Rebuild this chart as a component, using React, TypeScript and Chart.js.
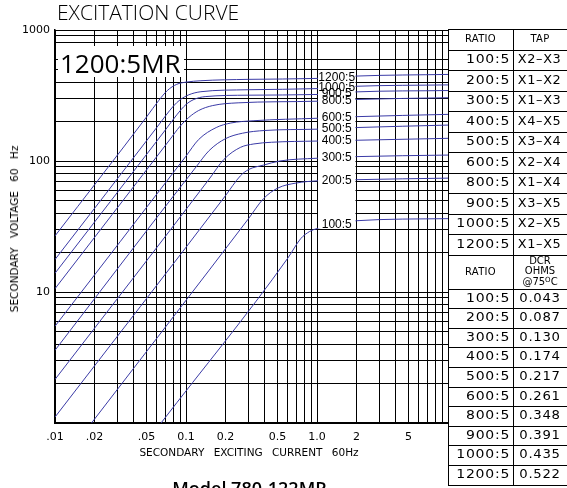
import React, { useEffect, useRef } from 'react';
import { Chart, registerables } from 'chart.js';

Chart.register(...registerables);

// ---- table data ----
const RATIOS = ['100:5', '200:5', '300:5', '400:5', '500:5', '600:5', '800:5', '900:5', '1000:5', '1200:5'];
const TAPS = ['X2–X3', 'X1–X2', 'X1–X3', 'X4–X5', 'X3–X4', 'X2–X4', 'X1–X4', 'X3–X5', 'X2–X5', 'X1–X5'];
const DCR = ['0.043', '0.087', '0.130', '0.174', '0.217', '0.261', '0.348', '0.391', '0.435', '0.522'];

// ---- excitation curves (secondary current A, secondary voltage V) ----
const I_100 = [0.0645, 0.6, 0.75, 0.88, 1, 2, 10];
const V_100 = [1.0, 18.2, 25.5, 29, 30.5, 35, 36.3];
const I_200 = [0.019, 0.3, 0.39, 0.5, 0.7, 1, 2, 10];
const V_200 = [1.0, 36.3, 51.5, 62, 68, 70.5, 72, 74];
const I_300 = [0.01, 0.2, 0.26, 0.3, 0.39, 0.52, 1, 2, 10];
const V_300 = [1.11, 54.3, 77, 86, 93, 100, 105, 108, 111];
const I_400 = [0.01, 0.15, 0.195, 0.26, 0.33, 0.45, 1, 2, 10];
const V_400 = [2.15, 72.6, 103, 127, 135, 139, 142, 144, 149];
const I_500 = [0.01, 0.12, 0.15, 0.2, 0.27, 0.4, 1, 2, 10];
const V_500 = [3.59, 90.7, 120, 148, 163, 171, 175, 180, 188];
const I_600 = [0.01, 0.1, 0.125, 0.17, 0.22, 0.33, 1, 2, 10];
const V_600 = [5.48, 109, 146, 180, 195, 203, 212, 218, 227];
const I_800 = [0.01, 0.075, 0.09, 0.105, 0.125, 0.16, 0.25, 1, 2, 10];
const V_800 = [10.6, 145, 184, 215, 243, 265, 278, 286, 295, 304];
const I_900 = [0.01, 0.07, 0.085, 0.1, 0.115, 0.14, 0.3, 1, 2, 10];
const V_900 = [13.9, 174, 225, 270, 295, 310, 318, 322, 337, 345];
const I_1000 = [0.01, 0.06, 0.07, 0.08, 0.09, 0.105, 0.13, 0.3, 1, 2, 10];
const V_1000 = [17.7, 181, 222, 262, 293, 320, 338, 350, 357, 372, 381];
const I_1200 = [0.01, 0.05, 0.062, 0.072, 0.085, 0.1, 0.13, 0.3, 1, 2, 10];
const V_1200 = [26.8, 217, 290, 345, 385, 400, 410, 420, 427, 445, 458];

const CURVE_I = [I_100, I_200, I_300, I_400, I_500, I_600, I_800, I_900, I_1000, I_1200];
const CURVE_V = [V_100, V_200, V_300, V_400, V_500, V_600, V_800, V_900, V_1000, V_1200];

// ---- axes ----
const X_MIN = 0.01;
const X_MAX = 10;
const Y_MIN = 1;
const Y_MAX = 1000;
const X_GRID = [
  0.01, 0.02, 0.03, 0.04, 0.05, 0.06, 0.07, 0.08, 0.09,
  0.1, 0.2, 0.3, 0.4, 0.5, 0.6, 0.7, 0.8, 0.9,
  1, 2, 3, 4, 5, 6, 7, 8, 9, 10,
];
const Y_GRID = [
  1, 2, 3, 4, 5, 6, 7, 8, 9,
  10, 20, 30, 40, 50, 60, 70, 80, 90,
  100, 200, 300, 400, 500, 600, 800, 900, 1000,
];
const X_LABEL_VALUES = [0.01, 0.02, 0.05, 0.1, 0.2, 0.5, 1, 2, 5];
const X_LABEL_TEXT = ['.01', '.02', '.05', '0.1', '0.2', '0.5', '1.0', '2', '5'];
const Y_LABEL_VALUES = [10, 100, 1000];
const Y_LABEL_TEXT = ['10', '100', '1000'];
const STRIP_FROM = 1;
const STRIP_TO = 2;

const CURVE_COLOR = '#3a3aa6';

function labelFor(value: number, vals: number[], texts: string[]) {
  const k = vals.findIndex((v) => Math.abs(v - value) / v < 1e-6);
  return k >= 0 ? texts[k] : '';
}

const stripPlugin = {
  id: 'ratioStrip',
  afterDatasetsDraw(chart: any) {
    const { ctx, scales } = chart;
    const xs = scales.x;
    const ys = scales.y;
    const x0 = xs.getPixelForValue(STRIP_FROM) + 1;
    const x1 = xs.getPixelForValue(STRIP_TO) - 1;
    const labelYs = CURVE_I.map((arr, k) => {
      const a = CURVE_V[k][arr.indexOf(STRIP_FROM)];
      const b = CURVE_V[k][arr.indexOf(STRIP_TO)];
      return ys.getPixelForValue(Math.sqrt(a * b));
    });
    const top = Math.min(...labelYs) - 5.5;
    const bottom = ys.getPixelForValue(30) - 1;
    ctx.save();
    ctx.fillStyle = '#fff';
    ctx.fillRect(x0, top, x1 - x0, bottom - top);
    ctx.fillStyle = '#000';
    ctx.font = '12px "Liberation Sans", Arial, sans-serif';
    ctx.textAlign = 'center';
    ctx.textBaseline = 'middle';
    labelYs.forEach((y, k) => {
      ctx.fillText(RATIOS[k], (x0 + x1) / 2, y + 0.5);
    });
    ctx.restore();
  },
};

function ExcitationChart() {
  const ref = useRef<HTMLCanvasElement | null>(null);
  useEffect(() => {
    if (!ref.current) return;
    const datasets = CURVE_I.map((arr, k) => ({
      label: RATIOS[k],
      data: arr.map((x, j) => ({ x, y: CURVE_V[k][j] })),
      borderColor: CURVE_COLOR,
      borderWidth: 1,
      pointRadius: 0,
      fill: false,
      cubicInterpolationMode: 'monotone' as const,
    }));
    const chart = new Chart(ref.current, {
      type: 'line',
      data: { datasets },
      plugins: [stripPlugin],
      options: {
        animation: false,
        responsive: true,
        maintainAspectRatio: false,
        parsing: false as any,
        layout: { padding: { left: 0, top: 30, right: 119, bottom: 35 } },
        plugins: {
          legend: { display: false },
          tooltip: { enabled: false },
          title: { display: false },
        },
        scales: {
          x: {
            type: 'logarithmic',
            min: X_MIN,
            max: X_MAX,
            afterBuildTicks: (s: any) => {
              s.ticks = X_GRID.map((v) => ({ value: v }));
            },
            afterFit: (s: any) => {
              s.height = 30;
            },
            ticks: {
              autoSkip: false,
              maxRotation: 0,
              minRotation: 0,
              padding: 8,
              color: '#000',
              font: { family: '"DejaVu Sans", sans-serif', size: 11 },
              callback: (v: any) => labelFor(Number(v), X_LABEL_VALUES, X_LABEL_TEXT),
            },
            grid: { color: '#000', lineWidth: 1, drawTicks: false },
            border: { color: '#000', width: 2 },
          },
          y: {
            type: 'logarithmic',
            min: Y_MIN,
            max: Y_MAX,
            afterBuildTicks: (s: any) => {
              s.ticks = Y_GRID.map((v) => ({ value: v }));
            },
            afterFit: (s: any) => {
              s.width = 55;
            },
            ticks: {
              autoSkip: false,
              padding: 5,
              color: '#000',
              font: { family: '"DejaVu Sans", sans-serif', size: 11 },
              callback: (v: any) => labelFor(Number(v), Y_LABEL_VALUES, Y_LABEL_TEXT),
            },
            grid: { color: '#000', lineWidth: 1, drawTicks: false },
            border: { color: '#000', width: 1.5 },
          },
        },
      } as any,
    });
    return () => chart.destroy();
  }, []);
  return (
    <div style={{ position: 'absolute', left: 0, top: 0, width: 567, height: 488 }}>
      <canvas ref={ref} />
    </div>
  );
}

const cellFont: React.CSSProperties = {
  fontFamily: '"DejaVu Sans", sans-serif',
  fontSize: 11.5,
  letterSpacing: 0.6,
  color: '#000',
};

function Wide({ children, origin, sx = 1.22 }: { children: React.ReactNode; origin: string; sx?: number }) {
  return (
    <span style={{ display: 'inline-block', transform: `scaleX(${sx})`, transformOrigin: origin, whiteSpace: 'nowrap' }}>
      {children}
    </span>
  );
}

function RatioTable() {
  const L = 448;
  const C = 513;
  const R = 567;
  const top = 29;
  const hUpper = 20.5;
  const hHead2 = 34;
  const hLower = 19.6;
  const cells: React.ReactNode[] = [];
  const lines: number[] = [top];
  let y = top;
  const hdrStyle: React.CSSProperties = {
    fontFamily: '"DejaVu Sans", sans-serif',
    fontSize: 10,
    letterSpacing: 0.3,
    color: '#000',
  };
  const box = (
    key: string,
    x: number,
    w: number,
    yy: number,
    h: number,
    content: React.ReactNode,
    align: 'right' | 'center',
    style: React.CSSProperties
  ) => (
    <div
      key={key}
      style={{
        position: 'absolute',
        left: x,
        top: yy,
        width: w,
        height: h,
        display: 'flex',
        alignItems: 'center',
        justifyContent: align === 'right' ? 'flex-end' : 'center',
        paddingRight: align === 'right' ? 3 : 0,
        boxSizing: 'border-box',
        textAlign: 'center',
        lineHeight: 1,
        ...style,
      }}
    >
      {content}
    </div>
  );
  cells.push(box('h1l', L, C - L, y, hUpper, 'RATIO', 'center', hdrStyle));
  cells.push(box('h1r', C, R - C, y, hUpper, 'TAP', 'center', hdrStyle));
  y += hUpper;
  lines.push(y);
  RATIOS.forEach((r, k) => {
    cells.push(box('u' + k + 'l', L, C - L, y, hUpper, <Wide origin="right center">{r}</Wide>, 'right', cellFont));
    cells.push(box('u' + k + 'r', C, R - C, y, hUpper, <Wide origin="center" sx={1.12}>{TAPS[k]}</Wide>, 'center', cellFont));
    y += hUpper;
    lines.push(y);
  });
  cells.push(box('h2l', L, C - L, y, hHead2, 'RATIO', 'center', hdrStyle));
  cells.push(
    box(
      'h2r',
      C,
      R - C,
      y,
      hHead2,
      <div style={{ lineHeight: '10.5px' }}>
        DCR
        <br />
        OHMS
        <br />
        @75<sup style={{ fontSize: 7, verticalAlign: 'top', lineHeight: '7px' }}>O</sup>C
      </div>,
      'center',
      { ...hdrStyle, letterSpacing: 0 }
    )
  );
  y += hHead2;
  lines.push(y);
  RATIOS.forEach((r, k) => {
    cells.push(box('d' + k + 'l', L, C - L, y, hLower, <Wide origin="right center">{r}</Wide>, 'right', cellFont));
    cells.push(box('d' + k + 'r', C, R - C, y, hLower, <Wide origin="center" sx={1.15}>{DCR[k]}</Wide>, 'center', cellFont));
    y += hLower;
    lines.push(y);
  });
  const bottom = y;
  return (
    <div>
      {lines.map((ly, k) => (
        <div key={'hl' + k} style={{ position: 'absolute', left: L, top: Math.round(ly), width: R - L, height: 1, background: '#000' }} />
      ))}
      {[L, C].map((lx, k) => (
        <div key={'vl' + k} style={{ position: 'absolute', left: lx, top: top, width: 1, height: bottom - top + 1, background: '#000' }} />
      ))}
      {cells}
    </div>
  );
}

export default function App() {
  return (
    <div
      style={{
        position: 'fixed',
        left: 0,
        top: 0,
        width: 567,
        height: 488,
        background: '#fff',
        overflow: 'hidden',
      }}
    >
      <ExcitationChart />
      <div
        style={{
          position: 'absolute',
          left: 57,
          top: 2,
          fontFamily: '"Open Sans", sans-serif',
          fontWeight: 300,
          fontSize: 21,
          lineHeight: '21px',
          color: '#000',
          whiteSpace: 'nowrap',
        }}
      >
        EXCITATION CURVE
      </div>
      <div
        style={{
          position: 'absolute',
          left: 58,
          top: 46,
          width: 126,
          height: 31,
          background: '#fff',
        }}
      />
      <div
        style={{
          position: 'absolute',
          left: 60,
          top: 50,
          fontFamily: '"Open Sans", sans-serif',
          fontSize: 26,
          lineHeight: '26px',
          color: '#000',
          whiteSpace: 'nowrap',
        }}
      >
        1200:5MR
      </div>
      <div
        style={{
          position: 'absolute',
          left: 14,
          top: 229,
          transform: 'translate(-50%, -50%) rotate(-90deg)',
          fontFamily: '"DejaVu Sans", sans-serif',
          fontSize: 10.5,
          wordSpacing: 6,
          whiteSpace: 'nowrap',
          color: '#000',
        }}
      >
        SECONDARY VOLTAGE 60 Hz
      </div>
      <div
        style={{
          position: 'absolute',
          left: 249,
          top: 452,
          transform: 'translate(-50%, -50%)',
          fontFamily: '"DejaVu Sans", sans-serif',
          fontSize: 10.5,
          wordSpacing: 6,
          whiteSpace: 'nowrap',
          color: '#000',
        }}
      >
        SECONDARY EXCITING CURRENT 60Hz
      </div>
      <RatioTable />
      <div
        style={{
          position: 'absolute',
          left: 249.5,
          top: 479,
          transform: 'translateX(-50%)',
          fontFamily: '"Open Sans", sans-serif',
          fontWeight: 600,
          fontSize: 18,
          lineHeight: '18px',
          color: '#000',
          whiteSpace: 'nowrap',
        }}
      >
        Model 780-122MR
      </div>
    </div>
  );
}
